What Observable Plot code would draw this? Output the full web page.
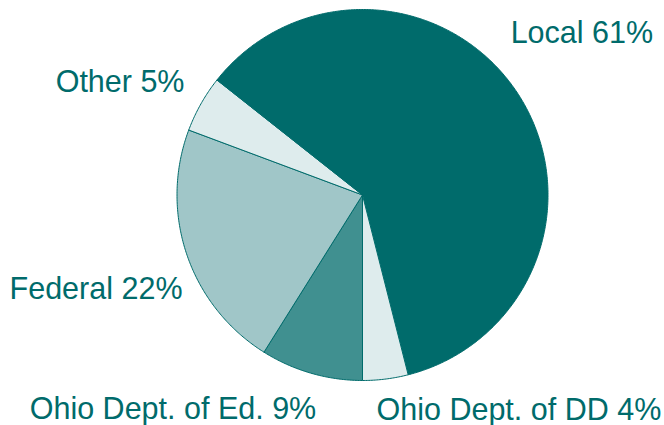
<!DOCTYPE html>
<html>
<head>
<meta charset="utf-8">
<script src="https://cdn.jsdelivr.net/npm/d3@7"></script>
<script src="https://cdn.jsdelivr.net/npm/@observablehq/plot@0.6"></script>
<style>
  html, body { margin: 0; padding: 0; background: #ffffff; }
  #chart svg { display: block; }
</style>
</head>
<body>
<div id="chart"></div>
<script>
// ---- Data ----
const sources = ["Ohio Dept. of Ed.", "Federal", "Other", "Local", "Ohio Dept. of DD"];
const shares  = [9, 22, 5, 61, 4];
const labels  = ["Ohio Dept. of Ed. 9%", "Federal 22%", "Other 5%", "Local 61%", "Ohio Dept. of DD 4%"];
const colors  = ["#409090", "#A0C6C8", "#DEECED", "#006B6B", "#DEECED"];

// ---- Layout ----
const W = 664, H = 425;
const cx = 362, cy = 194.5, R = 185.5;
const teal = "#006B6B";
// label placement: anchor side and pixel nudges from the slice's mid-angle on the rim
const labelLayout = {
  "Ohio Dept. of Ed.": {anchor: "end",   dx: 5,     dy: 45.5},
  "Federal":           {anchor: "end",   dx: -4.3,  dy: 44.3},
  "Other":             {anchor: "end",   dx: -16.4, dy: -11.9},
  "Local":             {anchor: "start", dx: -7.5,  dy: -50.6},
  "Ohio Dept. of DD":  {anchor: "start", dx: -9,    dy: 41.4}
};

// angles clockwise from 12 o'clock, starting at 6 o'clock
const pie = d3.pie().sort(null).startAngle(Math.PI).endAngle(3 * Math.PI).value(d => d.value);
const table = sources.map((s, i) => ({name: s, value: shares[i], label: labels[i]}));
const arcs = pie(table);

const pts = [];
arcs.forEach(a => {
  const n = Math.max(2, Math.ceil((a.endAngle - a.startAngle) / (Math.PI / 360)));
  pts.push({name: a.data.name, x: 0, y: 0});
  for (let k = 0; k <= n; k++) {
    const t = a.startAngle + (a.endAngle - a.startAngle) * k / n;
    pts.push({name: a.data.name, x: Math.sin(t), y: -Math.cos(t)});
  }
  pts.push({name: a.data.name, x: 0, y: 0});
});

const labelData = arcs.map(a => {
  const m = (a.startAngle + a.endAngle) / 2;
  return {name: a.data.name, label: a.data.label, x: Math.sin(m), y: -Math.cos(m), ...labelLayout[a.data.name]};
});

const chart = Plot.plot({
  width: W,
  height: H,
  margin: 0,
  style: {background: "#ffffff", overflow: "visible"},
  x: {domain: [-1, 1], range: [cx - R, cx + R], axis: null},
  y: {domain: [-1, 1], range: [cy - R, cy + R], axis: null},
  color: {domain: sources, range: colors},
  marks: [
    Plot.line(pts, {
      x: "x", y: "y", z: "name", fill: "name",
      stroke: teal, strokeWidth: 1, strokeLinejoin: "round"
    }),
    ...labelData.map(d =>
      Plot.text([d], {
        x: "x", y: "y", text: "label",
        textAnchor: d.anchor, lineAnchor: "bottom",
        dx: d.dx, dy: d.dy,
        fill: teal, fontSize: 30.5,
        fontFamily: "Arial, 'Liberation Sans', Helvetica, sans-serif"
      })
    )
  ]
});

document.getElementById("chart").appendChild(chart);
</script>
</body>
</html>
